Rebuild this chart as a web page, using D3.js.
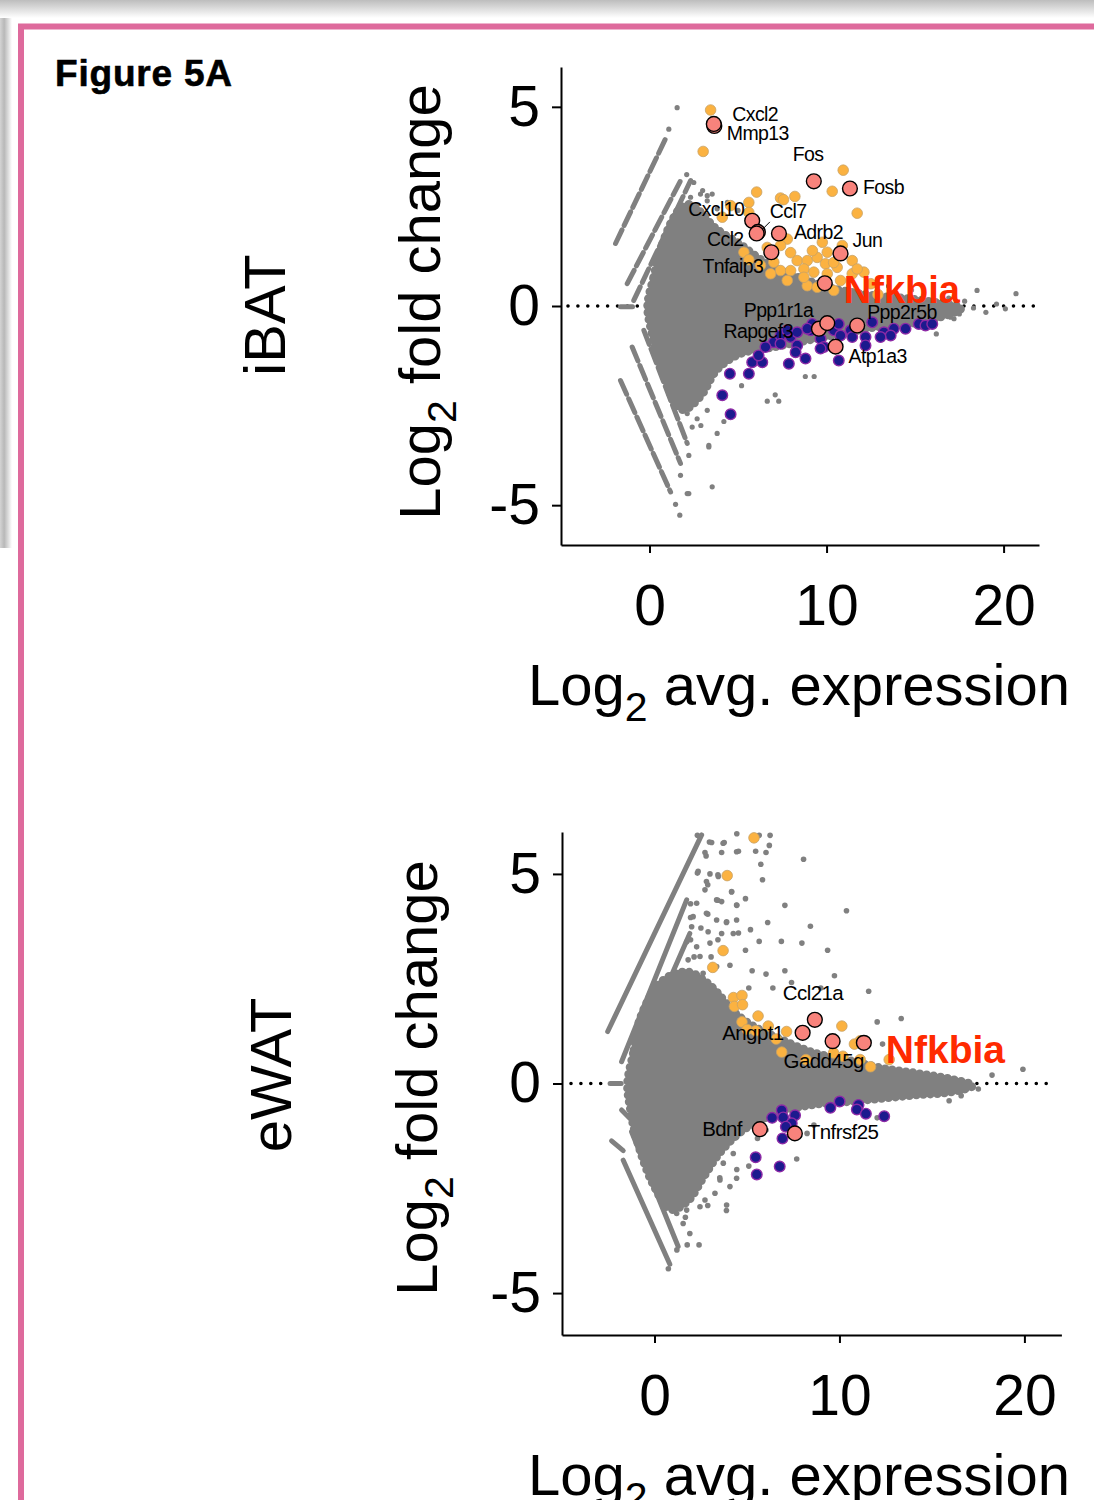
<!DOCTYPE html>
<html>
<head>
<meta charset="utf-8">
<script src="https://cdn.jsdelivr.net/npm/d3@7"></script>
<style>
body { margin: 0; background: #fff; }
svg { display: block; font-family: "Liberation Sans", Arial, sans-serif; }
</style>
</head>
<body>
<svg id="fig" width="1094" height="1500"></svg>
<script>
const xTicks = [0, 10, 20];
const yTicks = [-5, 0, 5];
const xDomain = [-5, 22];
const yDomain = [-6, 6];

// ---------- iBAT ----------
// outline of the dense grey cloud
const ibatCore = [[-0.1, 0.0], [0.24, 0.72], [0.62, 1.39], [1.19, 2.06], [1.75, 2.45], [2.3, 2.55], [2.9, 2.35],
    [3.6, 2.0], [4.2, 1.8], [5.1, 1.55], [6.1, 1.22], [7.0, 0.97], [8.9, 0.64], [10.8, 0.39], [12.7, 0.26],
    [14.6, 0.18], [16.4, 0.07], [17.6, -0.05], [16.1, -0.32], [14.6, -0.45], [12.7, -0.53], [10.8, -0.70],
    [8.9, -0.86], [7.0, -1.03], [5.1, -1.2], [3.8, -1.6], [2.9, -2.25], [1.95, -2.6], [1.45, -2.45],
    [1.0, -1.95], [0.53, -1.37], [0.15, -0.70]];
// low count streaks [x1, y1, x2, y2]
const ibatStreaks = [[-1.92, 1.57, 0.96, 4.25], [-1.26, 0.56, 1.85, 3.23], [-0.89, 0.14, 2.32, 3.15],
    [-1.64, -1.87, 1.19, -4.67], [-0.98, -1.03, 1.75, -3.95], [-0.32, -0.61, 2.13, -3.45], [-1.64, -0.02, -0.96, -0.02]];
const ibatGray = [[18.5, 0.39], [20.7, 0.31], [19.0, -0.16], [20.1, -0.07], [17.2, -0.32], [17.8, 0.12], [18.3, -0.05],
    [16.9, 0.2], [17.5, -0.2], [19.6, 0.05], [8.8, -1.77], [9.3, -1.77], [6.65, -2.39], [7.3, -2.39], [7.1, -2.23],
    [5.2, -2.0], [4.2, -2.9], [3.35, -3.54], [3.54, -4.54], [2.13, -4.71], [1.47, -4.98], [1.71, -5.25], [1.75, -4.25],
    [2.22, -3.75], [3.35, -3.5], [3.82, -3.2], [2.22, -4.71], [2.9, -3.0], [3.26, 2.77], [3.0, 2.9], [2.5, 3.1],
    [2.1, 3.3], [1.09, 4.44], [1.56, 4.98], [4.4, 2.6], [5.0, 2.4], [13.5, 0.5], [14.8, 0.4], [17.0, -0.28], [16.2, -0.7],
    [2.32, 2.73], [2.88, 2.81], [3.26, 2.64], [2.03, 2.39], [3.54, 2.81], [3.82, 2.44], [2.13, -2.70], [2.69, -2.83],
    [1.75, -2.41], [2.41, -3.04], [3.26, -2.62]];
const ibatUp = [[3.45, 4.92], [3.03, 3.88], [10.94, 3.41], [10.32, 2.88], [11.73, 2.33], [6.05, 2.86], [7.40, 2.71],
    [7.57, 2.67], [8.21, 2.75], [5.61, 2.60], [5.61, 2.35], [4.11, 2.23], [6.23, 1.82], [7.78, 1.68], [9.76, 1.60],
    [10.89, 1.52], [5.33, 1.35], [5.61, 1.16], [6.65, 1.47], [7.40, 1.52], [8.34, 1.14], [8.91, 1.14], [9.47, 1.22],
    [10.04, 1.35], [9.94, 1.06], [10.60, 0.97], [11.45, 1.14], [12.11, 0.85], [7.02, 1.10], [7.40, 0.89], [7.97, 0.89],
    [8.72, 0.93], [9.28, 0.85], [10.04, 0.81], [11.45, 0.81], [6.84, 0.81], [7.78, 0.64], [8.91, 0.51], [9.47, 0.47],
    [10.41, 0.39], [8.72, 0.72], [10.79, 0.64], [11.73, 0.93], [6.27, 1.02], [7.97, 1.34], [9.2, 1.39], [10.4, 1.09],
    [12.5, 0.56], [12.9, 0.29], [4.58, 2.52]];
const ibatDown = [[4.58, -2.72], [4.11, -2.24], [4.54, -1.70], [5.61, -1.70], [5.80, -1.41], [6.37, -1.41],
    [7.02, -0.91], [7.40, -0.74], [7.97, -0.78], [8.34, -0.99], [8.81, -1.32], [8.25, -1.16], [7.78, -0.61],
    [9.10, -0.61], [9.19, -0.45], [9.66, -0.82], [9.85, -1.03], [10.41, -0.61], [10.69, -0.45], [10.79, -0.74],
    [11.36, -0.61], [11.45, -0.78], [12.20, -0.78], [12.58, -0.41], [13.24, -0.66], [13.80, -0.57], [13.62, -0.74],
    [14.46, -0.57], [15.21, -0.45], [15.59, -0.49], [15.97, -0.45], [10.69, -1.37], [8.91, -0.57], [8.34, -0.66],
    [7.40, -0.95], [6.55, -1.03], [7.87, -1.45], [9.66, -1.07], [13.05, -0.78], [12.2, -0.99], [6.16, -1.24]];
const ibatGenes = [
    {gene: "Cxcl2", x: 3.66, y: 4.52}, {gene: "Mmp13", x: 3.63, y: 4.57}, {gene: "Fos", x: 9.28, y: 3.13},
    {gene: "Fosb", x: 11.32, y: 2.95}, {gene: "Cxcl10", x: 5.80, y: 2.14}, {gene: "Ccl7", x: 6.12, y: 1.86},
    {gene: "Ccl2", x: 6.05, y: 1.82}, {gene: "Adrb2", x: 7.31, y: 1.82}, {gene: "Jun", x: 10.79, y: 1.32},
    {gene: "Tnfaip3", x: 6.88, y: 1.35}, {gene: "Nfkbia", x: 9.90, y: 0.57}, {gene: "Rapgef3", x: 9.57, y: -0.57},
    {gene: "Ppp1r1a", x: 10.04, y: -0.43}, {gene: "Ppp2r5b", x: 11.73, y: -0.49}, {gene: "Atp1a3", x: 10.51, y: -1.02}];

// ---------- eWAT ----------
const ewatCore = [[-1.45, 0.0], [-1.1, 0.8], [-0.79, 1.52], [0.11, 2.3], [1.0, 2.6], [1.9, 2.65], [2.7, 2.45],
    [3.43, 2.15], [4.18, 1.75], [5.28, 1.38], [6.77, 1.06], [8.62, 0.73], [10.47, 0.55], [12.33, 0.36],
    [14.18, 0.24], [16.03, 0.1], [17.2, -0.05], [16.03, -0.2], [14.18, -0.27], [12.33, -0.35], [10.47, -0.43],
    [8.62, -0.5], [6.77, -0.68], [4.92, -1.07], [3.62, -1.6], [2.69, -2.2], [1.8, -2.8], [0.9, -3.0],
    [-0.07, -2.4], [-0.97, -1.3], [-1.3, -0.6]];
const ewatStreaks = [[-2.53, 1.24, 2.55, 5.93], [-1.78, 0.52, 1.74, 4.38], [-1.33, 0.32, 1.91, 3.58],
    [-1.69, -1.83, 0.83, -4.31], [-1.24, -1.15, 1.28, -3.89], [-1.78, -0.63, -1.15, -0.91],
    [-2.32, -1.37, -1.69, -1.60], [-2.4, 0.0, -1.8, 0.0]];
const ewatGray = [[2.32, 5.92], [2.97, 5.76], [3.71, 5.73], [4.45, 5.96], [5.66, 5.92], [6.25, 5.92], [6.21, 5.68],
    [5.47, 5.54], [6.03, 5.51], [4.54, 5.54], [2.79, 5.43], [5.75, 5.23], [8.06, 5.35], [5.84, 4.86], [2.32, 5.02],
    [3.43, 4.98], [2.88, 4.74], [4.17, 4.57], [4.92, 4.41], [3.43, 4.37], [1.95, 4.29], [4.45, 4.25], [7.05, 4.25],
    [10.38, 4.12], [2.88, 4.04], [3.89, 3.84], [1.95, 3.96], [6.12, 3.84], [8.43, 3.75], [5.19, 3.67], [4.54, 3.59],
    [2.51, 3.71], [1.95, 3.43], [3.43, 3.43], [5.66, 3.39], [6.86, 3.39], [7.97, 3.35], [9.36, 3.18], [4.92, 3.18],
    [3.06, 3.02], [2.14, 3.02], [4.08, 2.82], [5.28, 2.69], [7.05, 2.69], [6.03, 2.61], [9.73, 2.57], [7.41, 2.41],
    [11.58, 2.20], [6.40, 2.28], [8.99, 2.28], [5.10, 2.28], [12.04, 1.47], [13.34, 1.55], [12.33, 0.94],
    [19.92, 0.34], [18.25, 0.20], [16.31, 0.08], [16.58, -0.17], [17.51, -0.13], [15.93, -0.41], [16.58, -0.29],
    [12.04, -0.82], [8.62, -0.99], [7.69, -1.80], [4.45, -2.05], [5.10, -1.97], [3.06, -1.93], [3.89, -3.03],
    [2.88, -2.91], [1.77, -3.85], [2.41, -3.85], [1.21, -3.97], [0.75, -4.42], [1.67, -3.19], [3.53, -2.25],
    [5.57, -1.31], [6.03, -1.11], [8.25, -1.19],
    [3.09, 5.75], [3.77, 5.75], [2.73, 5.51], [3.63, 5.51], [4.44, 5.53], [2.36, 5.06], [3.0, 5.0], [3.45, 4.94],
    [2.81, 4.82], [2.73, 4.62], [3.36, 4.38], [3.63, 4.34], [4.17, 4.58], [4.44, 4.26], [2.28, 4.30], [2.09, 3.98],
    [2.01, 3.74], [2.81, 4.06], [3.36, 3.90], [3.90, 3.86], [4.44, 3.90], [2.90, 3.62], [3.63, 3.58], [4.26, 3.58],
    [1.74, 3.38], [2.28, 3.26], [3.0, 3.35], [1.82, 2.95], [2.46, 3.03], [3.36, 2.79], [2.63, 2.63], [1.74, 2.55],
    [1.37, 2.31], [1.91, 2.15], [2.46, 2.23],
    [2.46, -1.75], [3.09, -1.71], [3.72, -1.90], [4.26, -1.67], [2.81, -2.14], [3.54, -2.30], [4.08, -2.46],
    [2.73, -2.78], [1.91, -2.46], [2.46, -2.94], [1.55, -3.34], [1.91, -3.58], [1.20, -3.10], [3.90, -2.90],
    [4.44, -2.26], [3.27, -2.62], [1.74, -3.02]];
const ewatUp = [[5.38, 5.86], [3.93, 4.96], [3.71, 3.17], [3.15, 2.77], [4.27, 2.05], [4.73, 2.10], [4.32, 1.84],
    [4.76, 1.88], [4.73, 1.47], [5.60, 1.61], [5.01, 1.29], [5.47, 1.26], [6.15, 1.37], [7.14, 1.24], [6.58, 1.06],
    [6.88, 0.75], [10.13, 1.37], [10.19, 0.65], [9.68, 0.73], [8.19, 0.57], [11.12, 1.02], [10.81, 0.94],
    [11.12, 0.57], [11.68, 0.40], [12.69, 0.57]];
const ewatDown = [[6.36, -0.82], [6.88, -0.64], [6.96, -0.81], [7.60, -0.76], [7.42, -0.95], [7.10, -1.03],
    [6.92, -1.31], [9.51, -0.58], [10.01, -0.43], [11.03, -0.51], [10.94, -0.62], [11.43, -0.72], [12.42, -0.78],
    [5.47, -1.76], [5.53, -2.17], [6.77, -1.98]];
const ewatGenes = [
    {gene: "Ccl21a", x: 8.67, y: 1.52}, {gene: "Angpt1", x: 8.01, y: 1.21}, {gene: "Gadd45g", x: 9.63, y: 1.01},
    {gene: "Nfkbia", x: 11.32, y: 0.97}, {gene: "Bdnf", x: 5.70, y: -1.09}, {gene: "Tnfrsf25", x: 7.59, y: -1.19}];

// label placement: pixel offset from the point, anchor
const ibatLabels = {
    Cxcl2: [18, -5, "start"], Mmp13: [13, 16, "start"], Fos: [-21, -20, "start"], Fosb: [13, 6, "start"],
    Cxcl10: [-8, -5, "end"], Ccl7: [12, -14, "start"], Ccl2: [-13, 12, "end"], Adrb2: [15, 5, "start"],
    Jun: [12, -6, "start"], Tnfaip3: [-8, 21, "end"], Nfkbia: [19, 20, "start"], Ppp1r1a: [-14, -6, "end"],
    Rapgef3: [-26, 9, "end"], Ppp2r5b: [10, -7, "start"], Atp1a3: [13, 16, "start"]};
const ewatLabels = {
    Ccl21a: [-32, -20, "start"], Angpt1: [-19, 7, "end"], Gadd45g: [-49, 27, "start"],
    Nfkbia: [22, 20, "start"], Bdnf: [-18, 7, "end"], Tnfrsf25: [13, 6, "start"]};

const gray = "#808080",
    orange = "#fbb241",
    navy = "#1c1a8e",
    salmon = "#f8837c";

let svg = d3.select("#fig");

// page background bits (screenshot frame)
let defs = svg.append("defs");
let gTop = defs.append("linearGradient").attr("id", "shTop").attr("x1", 0).attr("y1", 0).attr("x2", 0).attr("y2", 1);
gTop.append("stop").attr("offset", 0).attr("stop-color", "#bdbdbd");
gTop.append("stop").attr("offset", 1).attr("stop-color", "#ffffff");
let gLeft = defs.append("linearGradient").attr("id", "shLeft").attr("x1", 0).attr("y1", 0).attr("x2", 1).attr("y2", 0);
gLeft.append("stop").attr("offset", 0).attr("stop-color", "#d4d4d4");
gLeft.append("stop").attr("offset", 0.35).attr("stop-color", "#b8b8b8");
gLeft.append("stop").attr("offset", 1).attr("stop-color", "#ffffff");

svg.append("rect").attr("x", 0).attr("y", 0).attr("width", 1094).attr("height", 1500).attr("fill", "#fff");
svg.append("rect").attr("x", 0).attr("y", 0).attr("width", 12).attr("height", 548).attr("fill", "url(#shLeft)");
svg.append("rect").attr("x", 0).attr("y", 0).attr("width", 1094).attr("height", 18).attr("fill", "url(#shTop)");
svg.append("path").attr("d", "M21,1500V26.5H1094")
    .attr("fill", "none").attr("stroke", "#de6a9c").attr("stroke-width", 6);

svg.append("text").attr("x", 55).attr("y", 86)
    .attr("font-size", 37).attr("font-weight", "bold").attr("letter-spacing", 0.8)
    .attr("stroke", "#000").attr("stroke-width", 0.6)
    .text("Figure 5A");

const panels = [
    {name: "iBAT", core: ibatCore, streaks: ibatStreaks, gray: ibatGray, up: ibatUp, down: ibatDown,
        genes: ibatGenes, labels: ibatLabels, left: 561, top: 67, w: 478, h: 478, dash: "15,5",
        dotFrom: 568, dotTo: 1034, tagX: 285, tagY: 315, titleX: 440, titleY: 302, xTitleY: 705,
        geneSize: 19.5, nfSize: 38, grayR: 2.6},
    {name: "eWAT", core: ewatCore, streaks: ewatStreaks, gray: ewatGray, up: ewatUp, down: ewatDown,
        genes: ewatGenes, labels: ewatLabels, left: 562, top: 832, w: 499.4, h: 503, dash: null,
        dotFrom: 571, dotTo: 1053, tagX: 291, tagY: 1075, titleX: 437, titleY: 1078, xTitleY: 1495,
        geneSize: 20.5, nfSize: 39, grayR: 2.8}
];

const drawPanel = (p) => {
    let x = d3.scaleLinear().domain(xDomain).range([p.left, p.left + p.w]);
    let y = d3.scaleLinear().domain(yDomain).range([p.top + p.h, p.top]);
    let g = svg.append("g").attr("class", "panel");

    // dotted zero line (behind the points)
    g.append("line")
        .attr("x1", p.dotFrom).attr("x2", p.dotTo)
        .attr("y1", y(0)).attr("y2", y(0))
        .attr("stroke", "#000").attr("stroke-width", 3.6)
        .attr("stroke-linecap", "round").attr("stroke-dasharray", "0,9.9");

    // dense cloud, with a dotted rim so the edge looks grainy
    let corePath = d3.line().x(d => x(d[0])).y(d => y(d[1])).curve(d3.curveCatmullRomClosed);
    g.append("path").datum(p.core)
        .attr("d", corePath)
        .attr("fill", gray).attr("stroke", gray).attr("stroke-width", 3).attr("stroke-linejoin", "round");
    g.append("path").datum(p.core)
        .attr("d", corePath)
        .attr("fill", "none").attr("stroke", gray).attr("stroke-width", 9)
        .attr("stroke-linecap", "round").attr("stroke-dasharray", "0,7");

    g.selectAll(".streak").data(p.streaks).enter().append("line")
        .attr("class", "streak")
        .attr("x1", d => x(d[0])).attr("y1", d => y(d[1]))
        .attr("x2", d => x(d[2])).attr("y2", d => y(d[3]))
        .attr("stroke", gray).attr("stroke-width", 5).attr("stroke-linecap", "round")
        .attr("stroke-dasharray", p.dash);

    g.selectAll(".gdot").data(p.gray).enter().append("circle")
        .attr("class", "gdot")
        .attr("cx", d => x(d[0])).attr("cy", d => y(d[1])).attr("r", p.grayR)
        .attr("fill", gray);

    g.selectAll(".up").data(p.up).enter().append("circle")
        .attr("class", "up")
        .attr("cx", d => x(d[0])).attr("cy", d => y(d[1])).attr("r", 5.3)
        .attr("fill", orange).attr("stroke", "#c8a266").attr("stroke-width", 0.8);

    g.selectAll(".down").data(p.down).enter().append("circle")
        .attr("class", "down")
        .attr("cx", d => x(d[0])).attr("cy", d => y(d[1])).attr("r", 5.3)
        .attr("fill", navy).attr("stroke", "#8d2aa6").attr("stroke-width", 1.4);

    g.selectAll(".hit").data(p.genes).enter().append("circle")
        .attr("class", "hit")
        .attr("cx", d => x(d.x)).attr("cy", d => y(d.y)).attr("r", 7.4)
        .attr("fill", salmon).attr("stroke", "#000").attr("stroke-width", 1.4);

    // leader line for Ccl7
    p.genes.filter(d => d.gene === "Ccl7").forEach(d => {
        g.append("line")
            .attr("x1", x(d.x) + 5).attr("y1", y(d.y) - 3)
            .attr("x2", x(d.x) + 12).attr("y2", y(d.y) - 10)
            .attr("stroke", "#000").attr("stroke-width", 1);
    });

    g.selectAll(".glab").data(p.genes).enter().append("text")
        .attr("class", "glab")
        .attr("x", d => x(d.x) + p.labels[d.gene][0])
        .attr("y", d => y(d.y) + p.labels[d.gene][1])
        .attr("text-anchor", d => p.labels[d.gene][2])
        .attr("font-size", d => d.gene === "Nfkbia" ? p.nfSize : p.geneSize)
        .attr("font-weight", d => d.gene === "Nfkbia" ? "bold" : "normal")
        .attr("letter-spacing", d => d.gene === "Nfkbia" ? 0 : -0.6)
        .attr("fill", d => d.gene === "Nfkbia" ? "#ff2a00" : "#000")
        .text(d => d.gene);

    // axes
    let ay = g.append("g").attr("transform", "translate(" + p.left + ",0)")
        .call(d3.axisLeft(y).tickValues(yTicks).tickSize(9).tickSizeOuter(0).tickPadding(12)
            .tickFormat(d => String(d)));
    let ax = g.append("g").attr("transform", "translate(0," + (p.top + p.h) + ")")
        .call(d3.axisBottom(x).tickValues(xTicks).tickSize(8).tickSizeOuter(0).tickPadding(32)
            .tickFormat(d => String(d)));
    [ay, ax].forEach(a => {
        a.attr("font-size", 57).attr("font-family", "Liberation Sans, Arial, sans-serif");
        a.selectAll("path, line").attr("stroke", "#000").attr("stroke-width", 2);
        a.selectAll("text").attr("fill", "#000");
    });

    // titles
    let yt = svg.append("text")
        .attr("transform", "translate(" + p.titleX + "," + p.titleY + ") rotate(-90)")
        .attr("text-anchor", "middle").attr("font-size", 58);
    yt.append("tspan").text("Log");
    yt.append("tspan").text("2").attr("font-size", 41).attr("dy", 16);
    yt.append("tspan").text(" fold change").attr("dy", -16);

    let xt = svg.append("text").attr("x", 528).attr("y", p.xTitleY).attr("font-size", 58);
    xt.append("tspan").text("Log");
    xt.append("tspan").text("2").attr("font-size", 41).attr("dy", 16);
    xt.append("tspan").text(" avg. expression").attr("dy", -16);

    svg.append("text")
        .attr("transform", "translate(" + p.tagX + "," + p.tagY + ") rotate(-90)")
        .attr("text-anchor", "middle").attr("font-size", 58)
        .text(p.name);
};

panels.forEach(drawPanel);
</script>
</body>
</html>
